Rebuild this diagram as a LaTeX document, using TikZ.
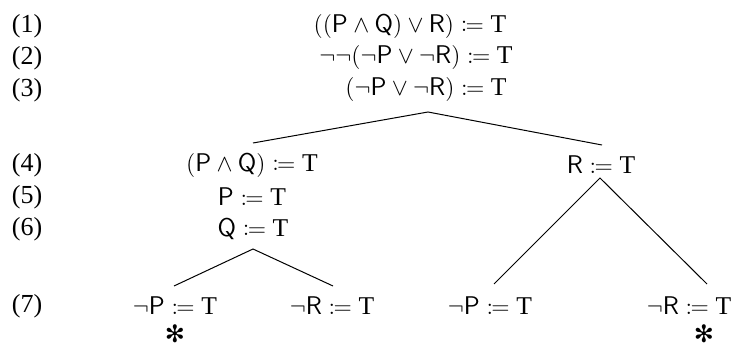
\documentclass[tikz,border=0pt]{standalone}
\usepackage{mathtools}
\usepackage{fontspec}
\setmainfont{Liberation Serif}
\newfontfamily\symfont{DejaVu Sans}
\begin{document}
\begin{tikzpicture}[x=0.5pt,y=-0.5pt,
  every node/.style={inner sep=0pt,font=\fontsize{12.8}{15}\selectfont},
  formula/.style={anchor=center},
  lbl/.style={anchor=center,font=\fontsize{13}{15}\selectfont},
  starmark/.style={anchor=center,font=\fontsize{12}{14}\selectfont\symfont},
  edge/.style={line width=0.5pt}]
\useasboundingbox (0,0) rectangle (734,347);
% labels
\node[lbl] (l1) at (27,26) {(1)};
\node[lbl] (l2) at (27,58) {(2)};
\node[lbl] (l3) at (27,90) {(3)};
\node[lbl] (l4) at (27,165) {(4)};
\node[lbl] (l5) at (27,197) {(5)};
\node[lbl] (l6) at (27,229) {(6)};
\node[lbl] (l7) at (27,306) {(7)};
% formulas
\node[formula] (f1) at (410,26) {$((\mathsf{P}\wedge\mathsf{Q})\vee\mathsf{R})\coloneqq\mathrm{T}$};
\node[formula] (f2) at (416,58) {$\neg\neg(\neg\mathsf{P}\vee\neg\mathsf{R})\coloneqq\mathrm{T}$};
\node[formula] (f3) at (426,90) {$(\neg\mathsf{P}\vee\neg\mathsf{R})\coloneqq\mathrm{T}$};
\node[formula] (f4) at (252,165) {$(\mathsf{P}\wedge\mathsf{Q})\coloneqq\mathrm{T}$};
\node[formula] (f5) at (252,197) {$\mathsf{P}\coloneqq\mathrm{T}$};
\node[formula] (f6) at (253,229) {$\mathsf{Q}\coloneqq\mathrm{T}$};
\node[formula] (r4) at (601,165) {$\mathsf{R}\coloneqq\mathrm{T}$};
\node[formula] (a7) at (175,306) {$\neg\mathsf{P}\coloneqq\mathrm{T}$};
\node[formula] (b7) at (332,306) {$\neg\mathsf{R}\coloneqq\mathrm{T}$};
\node[formula] (c7) at (490,306) {$\neg\mathsf{P}\coloneqq\mathrm{T}$};
\node[formula] (d7) at (689,306) {$\neg\mathsf{R}\coloneqq\mathrm{T}$};
\node[starmark] (s1) at (175,334) {✻};
\node[starmark] (s2) at (704,334) {✻};
% connector points
\coordinate (top) at (428,112);
\coordinate (topL) at (253,143);
\coordinate (topR) at (602,145);
\coordinate (lq) at (253,249);
\coordinate (lqL) at (174,286);
\coordinate (lqR) at (333,286);
\coordinate (rr) at (600,178);
\coordinate (rrL) at (494,284);
\coordinate (rrR) at (707,284);
\draw[edge] (topL) -- (top) -- (topR);
\draw[edge] (lqL) -- (lq) -- (lqR);
\draw[edge] (rrL) -- (rr) -- (rrR);
\end{tikzpicture}
\end{document}
